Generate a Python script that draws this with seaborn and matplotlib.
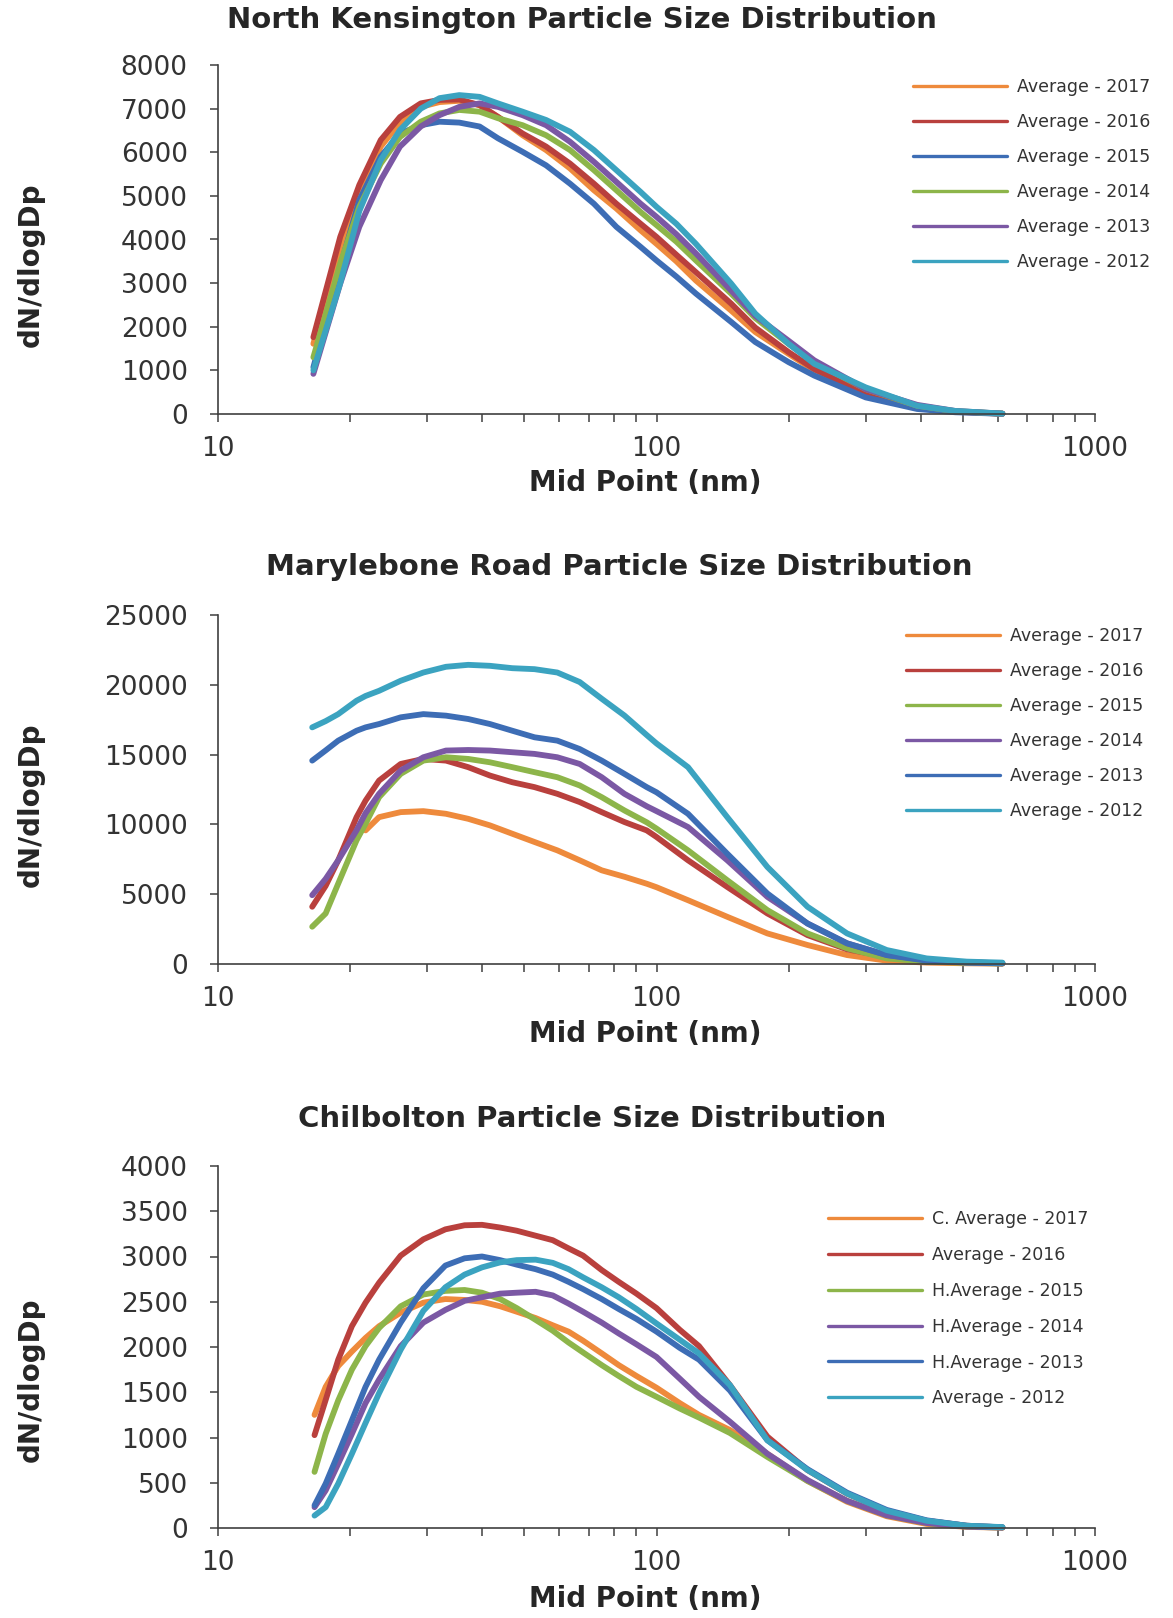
import numpy as np
import pandas as pd
import matplotlib
matplotlib.use("Agg")
import matplotlib.pyplot as plt
import matplotlib.ticker as mticker
from matplotlib.lines import Line2D
import seaborn as sns

# ---------------------------------------------------------------------------
# North Kensington (annual average size distributions)
# ---------------------------------------------------------------------------
nk_sizes = [16.5, 19, 21, 23.5, 26, 29, 32, 35.5, 39.5, 43.5, 49.5, 56, 63.5, 72,
            81, 92, 100, 111, 123, 148, 168, 200, 229, 300, 393, 480, 615]
nk_labels = ["Average - 2017", "Average - 2016", "Average - 2015",
             "Average - 2014", "Average - 2013", "Average - 2012"]
nk_2017 = [1610, 3750, 5000, 6130, 6680, 7040, 7150, 7180, 7080, 6810, 6390, 6050, 5630, 5130,
           4710, 4210, 3900, 3500, 3060, 2370, 1880, 1380, 1000, 460, 150, 50, 6]
nk_2016 = [1760, 4060, 5250, 6280, 6810, 7120, 7200, 7210, 7080, 6810, 6430, 6130, 5740, 5280,
           4820, 4360, 4060, 3650, 3250, 2530, 1980, 1420, 1030, 460, 150, 55, 8]
nk_2015 = [1070, 3370, 4900, 5900, 6430, 6620, 6700, 6680, 6590, 6320, 6010, 5700, 5280, 4820,
           4290, 3830, 3520, 3150, 2760, 2110, 1650, 1190, 880, 380, 115, 40, 5]
nk_2014 = [1300, 3450, 4750, 5740, 6350, 6700, 6890, 6970, 6930, 6780, 6620, 6390, 6050, 5590,
           5130, 4630, 4330, 3950, 3520, 2760, 2200, 1610, 1190, 570, 190, 65, 8]
nk_2013 = [920, 2990, 4290, 5360, 6130, 6590, 6850, 7040, 7120, 7040, 6850, 6620, 6240, 5780,
           5320, 4820, 4520, 4120, 3680, 2830, 2250, 1680, 1230, 570, 210, 70, 8]
nk_2012 = [1000, 3000, 4650, 5820, 6510, 7000, 7240, 7310, 7270, 7120, 6930, 6740, 6470, 6050,
           5590, 5090, 4750, 4360, 3900, 2990, 2300, 1610, 1150, 610, 190, 70, 10]
nk_colors = ["#EE8A3C", "#B9403D", "#3D6DB5", "#8DB54A", "#7B58A4", "#3BA3C0"]
nk_yticks = [0, 1000, 2000, 3000, 4000, 5000, 6000, 7000, 8000]

# ---------------------------------------------------------------------------
# Marylebone Road
# ---------------------------------------------------------------------------
mr_sizes = [16.4, 17.6, 18.8, 20.7, 21.7, 23.3, 26.1, 29.4, 33.1, 37.2, 41.7, 46.9, 52.7, 59.4,
            66.8, 75, 84.5, 95, 100, 118, 145, 179, 221, 272, 335, 413, 510, 615]
mr_labels = ["Average - 2017", "Average - 2016", "Average - 2015",
             "Average - 2014", "Average - 2013", "Average - 2012"]
nan = float("nan")
mr_2017 = [nan, nan, nan, nan, 9570, 10520, 10880, 10950, 10760, 10400, 9930, 9330, 8740, 8140,
           7430, 6710, 6250, 5750, 5500, 4570, 3380, 2190, 1360, 640, 240, 100, 50, 20]
mr_2016 = [4100, 5600, 7430, 10520, 11700, 13140, 14330, 14690, 14570, 14100, 13500, 13020, 12670,
           12190, 11600, 10880, 10170, 9570, 9100, 7430, 5520, 3620, 2070, 1050, 520, 240, 120, 50]
mr_2015 = [2670, 3620, 5760, 8860, 10050, 11950, 13620, 14570, 14810, 14690, 14450, 14100, 13740,
           13380, 12790, 11950, 11000, 10150, 9700, 8140, 6000, 3860, 2190, 1120, 400, 170, 90, 40]
mr_2014 = [4930, 6100, 7430, 9570, 10800, 12190, 13860, 14810, 15290, 15330, 15290, 15170, 15050,
           14810, 14330, 13380, 12190, 11300, 10950, 9810, 7430, 4810, 2900, 1480, 640, 290, 120, 50]
mr_2013 = [14570, 15300, 16000, 16710, 16950, 17190, 17670, 17900, 17790, 17550, 17190, 16710, 16240,
           16000, 15400, 14570, 13620, 12670, 12300, 10760, 7900, 5050, 2900, 1480, 640, 240, 100, 50]
mr_2012 = [16950, 17400, 17900, 18860, 19200, 19570, 20290, 20880, 21290, 21430, 21360, 21190, 21120,
           20880, 20200, 19000, 17800, 16400, 15800, 14100, 10520, 6950, 4100, 2190, 1000, 400, 170, 100]
mr_colors = ["#EE8A3C", "#B9403D", "#8DB54A", "#7B58A4", "#3D6DB5", "#3BA3C0"]
mr_yticks = [0, 5000, 10000, 15000, 20000, 25000]

# ---------------------------------------------------------------------------
# Chilbolton
# ---------------------------------------------------------------------------
ch_sizes = [16.6, 17.6, 18.8, 20.2, 21.7, 23.3, 26.1, 29.4, 33, 36.5, 40, 44, 48, 53, 58, 63, 68,
            75, 82, 90, 100, 113, 125, 147, 179, 221, 272, 335, 413, 510, 615]
ch_labels = ["C. Average - 2017", "Average - 2016", "H.Average - 2015",
             "H.Average - 2014", "H.Average - 2013", "Average - 2012"]
ch_2017 = [1250, 1560, 1790, 1950, 2100, 2230, 2380, 2490, 2530, 2520, 2500, 2450, 2390, 2320, 2240,
           2170, 2070, 1930, 1800, 1680, 1550, 1380, 1250, 1083, 820, 520, 290, 130, 45, 12, 4]
ch_2016 = [1026, 1415, 1860, 2230, 2490, 2710, 3010, 3190, 3300, 3345, 3350, 3320, 3285, 3230, 3180,
           3090, 3010, 2850, 2720, 2590, 2430, 2190, 2010, 1580, 1010, 640, 380, 190, 80, 25, 7]
ch_2015 = [620, 1040, 1410, 1750, 2010, 2210, 2450, 2580, 2620, 2630, 2600, 2530, 2430, 2300, 2180,
           2050, 1940, 1800, 1680, 1560, 1450, 1320, 1220, 1050, 785, 520, 300, 140, 55, 15, 5]
ch_2014 = [230, 415, 710, 1040, 1380, 1640, 2010, 2270, 2410, 2510, 2550, 2590, 2600, 2610, 2570,
           2480, 2390, 2270, 2150, 2030, 1890, 1650, 1450, 1175, 820, 530, 300, 140, 55, 15, 5]
ch_2013 = [250, 490, 820, 1190, 1560, 1860, 2270, 2650, 2900, 2980, 3000, 2960, 2910, 2860, 2800,
           2720, 2640, 2530, 2420, 2310, 2170, 1990, 1860, 1520, 970, 650, 390, 200, 85, 25, 8]
ch_2012 = [137, 230, 490, 820, 1160, 1490, 1970, 2400, 2660, 2800, 2880, 2935, 2960, 2965, 2930,
           2860, 2770, 2660, 2550, 2420, 2260, 2080, 1930, 1580, 970, 640, 380, 190, 80, 25, 10]
ch_colors = ["#EE8A3C", "#B9403D", "#8DB54A", "#7B58A4", "#3D6DB5", "#3BA3C0"]
ch_yticks = [0, 500, 1000, 1500, 2000, 2500, 3000, 3500, 4000]

x_ticks = [10, 100, 1000]
x_tick_labels = ["10", "100", "1000"]
x_label = "Mid Point (nm)"
y_label = "dN/dlogDp"

# ---------------------------------------------------------------------------
sns.set_theme(style="ticks")
plt.rcParams["font.family"] = ["DejaVu Sans"]
plt.rcParams["text.color"] = "#262626"

AXIS_GREY = "#404040"
FIG_W, FIG_H = 1173, 1618


def long_frame(sizes, labels, series):
    rows = []
    for lab, vals in zip(labels, series):
        for s, v in zip(sizes, vals):
            rows.append((s, v, lab))
    return pd.DataFrame(rows, columns=["size", "value", "series"]).dropna()


def px_rect(left, top, right, bottom):
    """Axes rectangle from pixel edges (origin top-left)."""
    return [left / FIG_W, 1 - bottom / FIG_H, (right - left) / FIG_W, (bottom - top) / FIG_H]


def draw_panel(fig, rect_px, title, title_px, sizes, labels, series, colors, yticks,
               legend_px, legend_spacing, ylabel_y, xlabel_y):
    ax = fig.add_axes(px_rect(*rect_px))
    df = long_frame(sizes, labels, series)
    sns.lineplot(data=df, x="size", y="value", hue="series", hue_order=labels,
                 palette=dict(zip(labels, colors)), linewidth=4.2, estimator=None,
                 errorbar=None, legend=False, ax=ax)
    for ln in ax.lines:
        ln.set_solid_capstyle("round")
        ln.set_solid_joinstyle("round")
        ln.set_clip_on(False)

    ax.set_xscale("log")
    ax.set_xlim(10, 1000)
    ax.set_ylim(yticks[0], yticks[-1])
    ax.set_yticks(yticks)
    ax.set_yticklabels([str(t) for t in yticks])
    ax.set_xticks(x_ticks)
    ax.set_xticklabels(x_tick_labels)
    ax.xaxis.set_minor_locator(mticker.LogLocator(base=10, subs=np.arange(2, 10)))
    ax.xaxis.set_minor_formatter(mticker.NullFormatter())

    sns.despine(ax=ax)
    for side in ("left", "bottom"):
        ax.spines[side].set_color(AXIS_GREY)
        ax.spines[side].set_linewidth(1.2)
    ax.tick_params(which="both", direction="out", length=5.8, width=1.1,
                   color=AXIS_GREY, labelsize=19, labelcolor="#333333")
    ax.tick_params(axis="y", pad=16)
    ax.tick_params(axis="x", which="both", pad=10)

    ax.set_xlabel(x_label, fontsize=20, fontweight="bold", color="#262626")
    ax.xaxis.label.set_va("center")
    ax.xaxis.set_label_coords(0.487, xlabel_y)
    ax.set_ylabel(y_label, fontsize=20, fontweight="bold", color="#262626")
    ax.yaxis.label.set_va("center")
    ax.yaxis.set_label_coords(-0.213, ylabel_y)

    fig.text(title_px[0] / FIG_W, 1 - title_px[1] / FIG_H, title, fontsize=21,
             fontweight="bold", ha="center", va="center", color="#262626")

    handles = [Line2D([0], [0], color=c, lw=2.4) for c in colors]
    ax.legend(handles, labels, loc="upper left",
              bbox_to_anchor=(legend_px[0] / FIG_W, 1 - legend_px[1] / FIG_H),
              bbox_transform=fig.transFigure, frameon=False, fontsize=12.5,
              handlelength=5.4, handletextpad=0.6, labelspacing=legend_spacing,
              borderpad=0, borderaxespad=0, labelcolor="#333333")
    return ax


fig = plt.figure(figsize=(FIG_W / 100, FIG_H / 100), dpi=100)
fig.patch.set_facecolor("white")

draw_panel(fig, (218, 65, 1095, 414), "North Kensington Particle Size Distribution", (582, 20),
           nk_sizes, nk_labels, [nk_2017, nk_2016, nk_2015, nk_2014, nk_2013, nk_2012],
           nk_colors, nk_yticks, (913, 78), 0.98, 0.427, -0.198)

draw_panel(fig, (218, 615, 1095, 964), "Marylebone Road Particle Size Distribution", (619, 567),
           mr_sizes, mr_labels, [mr_2017, mr_2016, mr_2015, mr_2014, mr_2013, mr_2012],
           mr_colors, mr_yticks, (906, 627), 0.98, 0.456, -0.200)

draw_panel(fig, (218, 1166, 1095, 1528), "Chilbolton Particle Size Distribution", (592, 1119),
           ch_sizes, ch_labels, [ch_2017, ch_2016, ch_2015, ch_2014, ch_2013, ch_2012],
           ch_colors, ch_yticks, (828, 1210), 1.03, 0.41, -0.196)

fig.savefig("out.png", dpi=100, facecolor="white")
